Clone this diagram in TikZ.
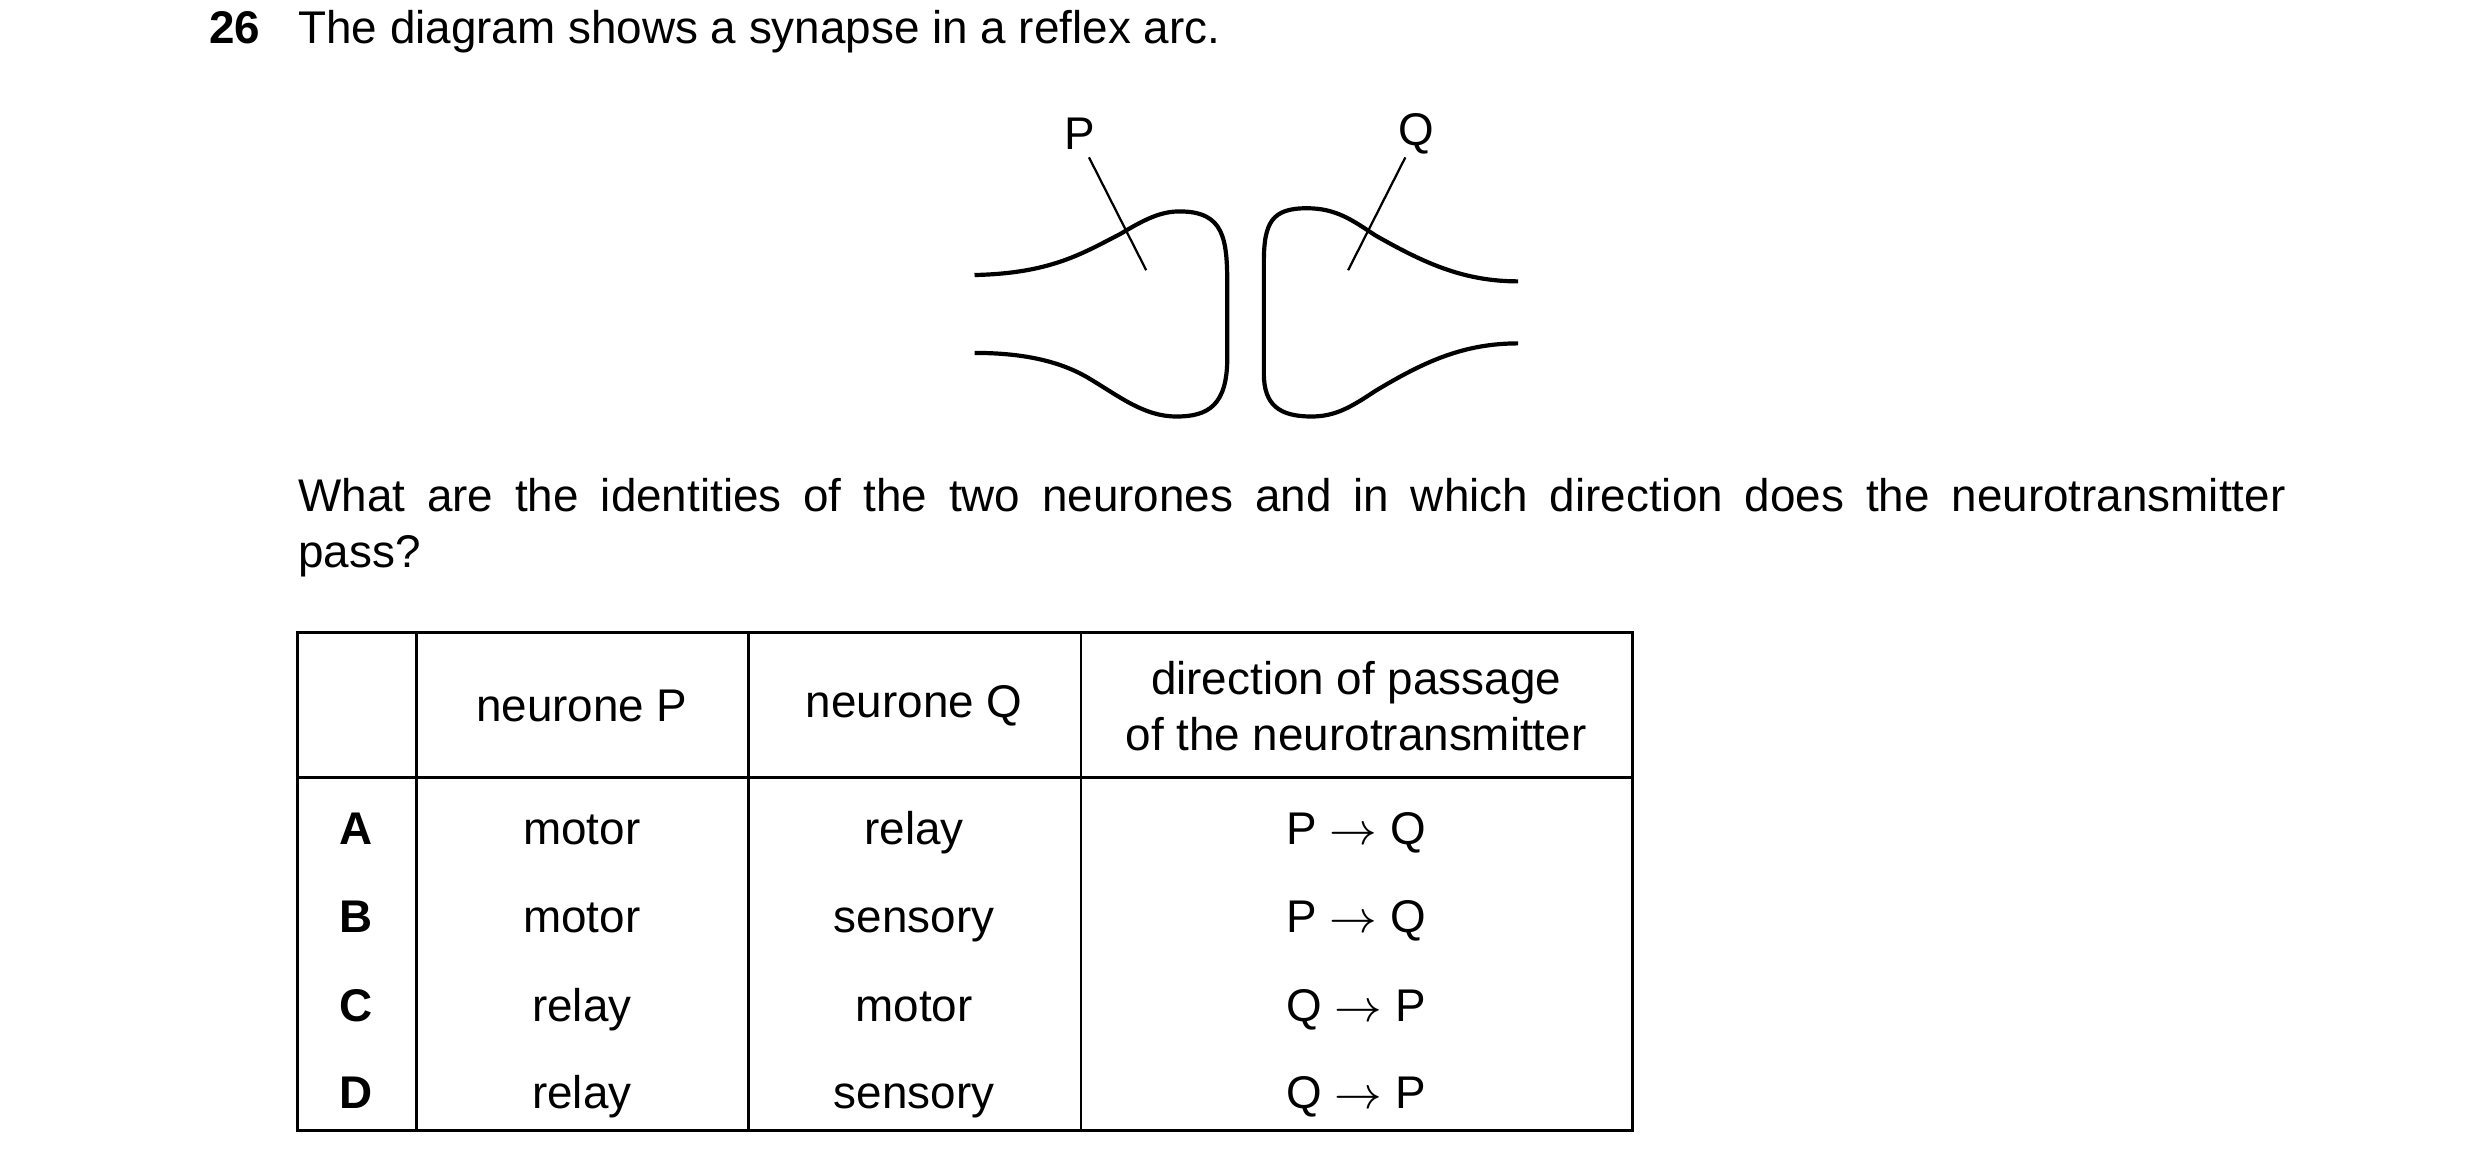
\documentclass[tikz,border=0pt]{standalone}
\usepackage{fontspec}
\setmainfont{Liberation Sans}
\begin{document}
\begin{tikzpicture}[x=0.1mm,y=-0.1mm,
  txt/.style={font=\fontsize{8.2}{10}\selectfont,inner sep=0pt},
  bold/.style={txt,font=\fontsize{8.2}{10}\selectfont\bfseries,text height=6pt,text depth=1.8pt},
  cell/.style={txt,align=center,text height=6pt,text depth=1.8pt},
  neur/.style={line width=0.75pt},
  lab/.style={line width=0.4pt}]
\useasboundingbox (0,0) rectangle (1560,733);
\node[bold,anchor=west] (num) at (131,20) {26};
\node[txt,anchor=west] (title) at (187,20) {The diagram shows a synapse in a reflex arc.};
% neurones
\draw[neur] (613,173) .. controls (660,172) and (680,160) .. (705,147) .. controls (720,138) and (730,133) .. (742,133) .. controls (770,133) and (772,150) .. (772,180) -- (772,225) .. controls (772,255) and (760,262) .. (740,262) .. controls (720,262) and (705,250) .. (685,238) .. controls (665,226) and (640,222) .. (613,222);
\draw[neur] (955,177) .. controls (920,177) and (895,165) .. (865,148) .. controls (850,138) and (840,131) .. (822,131) .. controls (800,131) and (795,140) .. (795,165) -- (795,235) .. controls (795,255) and (805,262) .. (825,262) .. controls (840,262) and (850,256) .. (865,246) .. controls (895,228) and (920,216) .. (955,216);
\node[txt] (P) at (679,84) {P};
\node[txt] (Q) at (891,84) {Q};
\coordinate (pe) at (721,170);
\coordinate (qe) at (848,170);
\draw[lab] (685,99) -- (pe);
\draw[lab] (884,99) -- (qe);
\node[txt,anchor=north west,text width=125mm,align=justify] (question) at (187,300) {What are the identities of the two neurones and in which direction does the neurotransmitter\linebreak pass?};
% table
\draw[line width=0.5pt] (187,398) rectangle (1027,711);
\draw[line width=0.5pt] (187,489) -- (1027,489);
\foreach \x in {262,471,680} \draw[line width=0.5pt] (\x,398) -- (\x,711);
\node[txt,align=center] (h1) at (366,444) {neurone P};
\node[txt,align=center] (h2) at (575,444) {neurone Q};
\node[txt,align=center] (h3) at (853,444) {direction of passage\\of the neurotransmitter};
\foreach \y/\l/\p/\q/\d in {524/A/motor/relay/{P $\rightarrow$ Q},579/B/motor/sensory/{P $\rightarrow$ Q},635/C/relay/motor/{Q $\rightarrow$ P},690/D/relay/sensory/{Q $\rightarrow$ P}}{
  \node[bold] (l\l) at (224,\y) {\l};
  \node[cell] (p\l) at (366,\y) {\p};
  \node[cell] (q\l) at (575,\y) {\q};
  \node[cell] (d\l) at (853,\y) {\d};
}
\end{tikzpicture}
\end{document}
